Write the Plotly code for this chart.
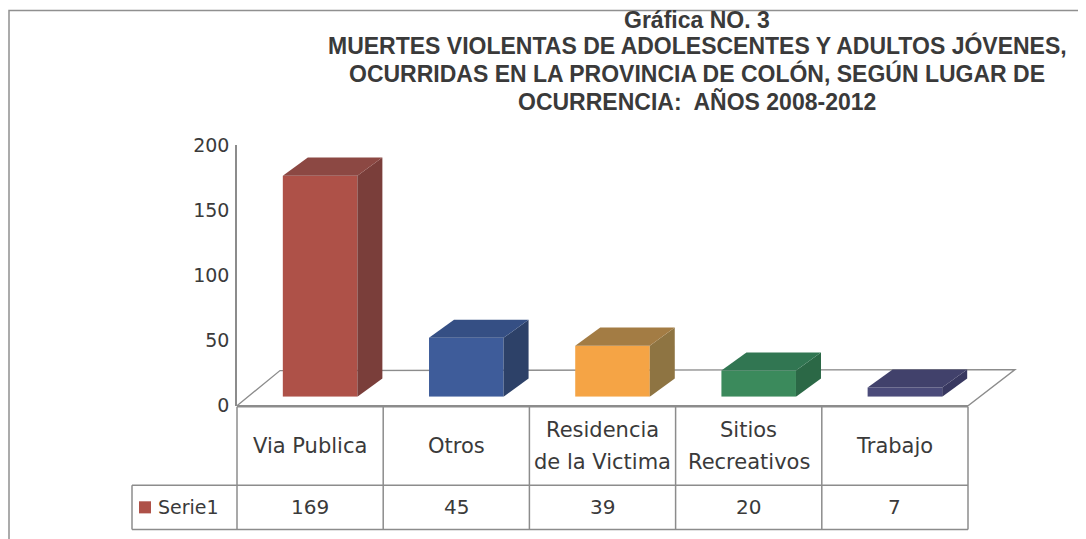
import plotly.graph_objects as go

W, H = 1086, 539

# ---- data ----
categories = ["Via Publica", "Otros", "Residencia\nde la Victima", "Sitios\nRecreativos", "Trabajo"]
values = [169, 45, 39, 20, 7]
series_name = "Serie1"
y_ticks = [0, 50, 100, 150, 200]
title_lines = [
    "Gráfica NO. 3",
    "MUERTES VIOLENTAS DE ADOLESCENTES Y ADULTOS JÓVENES,",
    "OCURRIDAS EN LA PROVINCIA DE COLÓN, SEGÚN LUGAR DE",
    "OCURRENCIA:  AÑOS 2008-2012",
]

# ---- styles ----
front_colors = ["#AE5148", "#3E5C9A", "#F5A445", "#3B8A5C", "#4B4B7A"]
side_colors = ["#7A3E3A", "#2D4168", "#8E7442", "#2B6846", "#383860"]
top_colors = ["#8C4843", "#354F84", "#A37C44", "#317652", "#41416B"]
TXT = "#3A3A3A"
LINE = "#8C8C8C"
FONT = "DejaVu Sans"

# page-pixel -> paper mapping (calibrated to the rendered page)
OX, OY, PW, PH = 8.0, 19.5, 1086.0, 514.0


def px(x):
    return (x - OX) / PW


def py(y):
    return 1 - (y - OY) / PH


n = len(values)
bar_w = 0.51           # in category units
dx = 25 / 146.2        # depth offset, category units
dy = 18 / 1.30         # depth offset, value units

fig = go.Figure()

# front faces
fig.add_trace(go.Bar(
    x=list(range(n)), y=values, width=bar_w,
    marker=dict(color=front_colors, line=dict(width=0)),
    xaxis="x2", yaxis="y2", hoverinfo="skip", showlegend=False,
))
# side and top faces
for k, v in enumerate(values):
    xr = k + bar_w / 2
    xl = k - bar_w / 2
    fig.add_trace(go.Scatter(
        x=[xr, xr, xr + dx, xr + dx, xr], y=[0, v, v + dy, dy, 0],
        fill="toself", fillcolor=side_colors[k], mode="lines", line=dict(width=0),
        xaxis="x2", yaxis="y2", hoverinfo="skip", showlegend=False,
    ))
    fig.add_trace(go.Scatter(
        x=[xl, xr, xr + dx, xl + dx, xl], y=[v, v, v + dy, v + dy, v],
        fill="toself", fillcolor=top_colors[k], mode="lines", line=dict(width=0),
        xaxis="x2", yaxis="y2", hoverinfo="skip", showlegend=False,
    ))

# invisible trace to render the value axis
fig.add_trace(go.Scatter(x=[0], y=[0], mode="markers", marker=dict(opacity=0),
                         xaxis="x", yaxis="y", hoverinfo="skip", showlegend=False))

shapes = []
# outer border
shapes.append(dict(type="rect", xref="paper", yref="paper", x0=px(9), y0=py(11), x1=px(1110), y1=py(570),
                   line=dict(color="#909090", width=1.5), layer="below"))
# floor (3D base)
floor = [(237, 404), (968, 404), (1015, 368), (280, 369), (237, 404)]
path = "M " + " L ".join(f"{px(a)},{py(b)}" for a, b in floor)
shapes.append(dict(type="path", xref="paper", yref="paper", path=path,
                   line=dict(color=LINE, width=1.3), layer="below"))

# data table grid
t_left, t_right = 237, 968
legend_left = 132
row_top, row_mid, row_bot = 405, 483, 527
col_w = (t_right - t_left) / n
for k in range(n + 1):
    xx = t_left + k * col_w
    shapes.append(dict(type="line", xref="paper", yref="paper", x0=px(xx), x1=px(xx),
                       y0=py(row_top), y1=py(row_bot), line=dict(color=LINE, width=1.5)))
shapes.append(dict(type="line", xref="paper", yref="paper", x0=px(t_left), x1=px(t_right),
                   y0=py(row_top), y1=py(row_top), line=dict(color=LINE, width=1.5)))
for yy in (row_mid, row_bot):
    shapes.append(dict(type="line", xref="paper", yref="paper", x0=px(legend_left), x1=px(t_right),
                       y0=py(yy), y1=py(yy), line=dict(color=LINE, width=1.5)))
shapes.append(dict(type="line", xref="paper", yref="paper", x0=px(legend_left), x1=px(legend_left),
                   y0=py(row_mid), y1=py(row_bot), line=dict(color=LINE, width=1.5)))
# legend key
shapes.append(dict(type="rect", xref="paper", yref="paper", x0=px(139), x1=px(151),
                   y0=py(499), y1=py(511), fillcolor=front_colors[0], line=dict(width=0)))

annotations = []
# title
title_y = [20, 46, 74, 102]
for line, yy in zip(title_lines, title_y):
    annotations.append(dict(text=f"<b>{line}</b>", xref="paper", yref="paper", x=px(697), y=py(yy),
                            showarrow=False, xanchor="center", yanchor="middle",
                            font=dict(family="Liberation Sans", size=23, color=TXT)))
# category labels
cat_mid = (row_top + row_mid) / 2
line_gap = 32
for k, cat in enumerate(categories):
    parts = cat.split("\n")
    for j, part in enumerate(parts):
        yy = cat_mid + (j - (len(parts) - 1) / 2) * line_gap
        annotations.append(dict(text=part, xref="x", yref="paper", x=k, y=py(yy),
                                showarrow=False, xanchor="center", yanchor="middle",
                                font=dict(family=FONT, size=21, color=TXT)))
# value labels
val_mid = (row_mid + row_bot) / 2
for k, v in enumerate(values):
    annotations.append(dict(text=str(v), xref="x", yref="paper", x=k, y=py(val_mid),
                            showarrow=False, xanchor="center", yanchor="middle",
                            font=dict(family=FONT, size=20, color=TXT)))
annotations.append(dict(text=series_name, xref="paper", yref="paper", x=px(156), y=py(val_mid),
                        showarrow=False, xanchor="left", yanchor="middle",
                        font=dict(family=FONT, size=19, color=TXT)))

fig.update_layout(
    width=W, height=H,
    margin=dict(l=0, r=0, t=0, b=0),
    paper_bgcolor="white", plot_bgcolor="rgba(0,0,0,0)",
    showlegend=False,
    shapes=shapes,
    annotations=annotations,
    xaxis=dict(domain=[px(t_left), px(t_right)], range=[-0.5, n - 0.5], visible=False,
               anchor="y", fixedrange=True),
    yaxis=dict(domain=[py(404), py(145)], range=[0, 200], tickvals=y_ticks,
               anchor="free", position=px(236), showline=True, linecolor=LINE, linewidth=1.5,
               showgrid=False, zeroline=False, ticks="", ticklabelstandoff=2,
               tickfont=dict(family=FONT, size=19, color=TXT), fixedrange=True),
    xaxis2=dict(domain=[px(t_left + 10), px(t_right + 10)], range=[-0.5, n - 0.5], visible=False,
                anchor="y2", fixedrange=True),
    yaxis2=dict(domain=[py(395), py(135)], range=[0, 200], visible=False,
                anchor="x2", fixedrange=True),
)

fig.write_html("out.html")
